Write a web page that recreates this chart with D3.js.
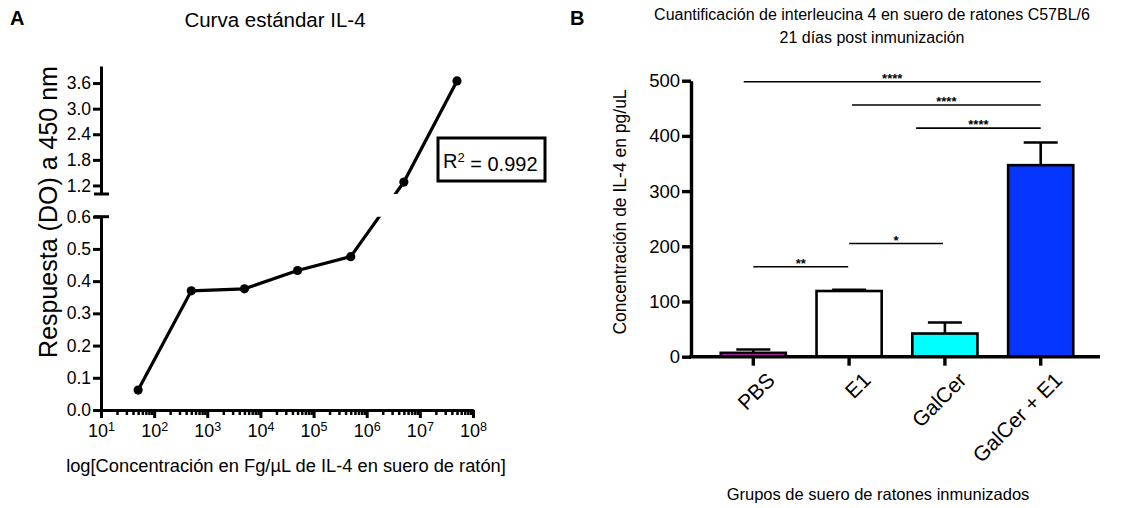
<!DOCTYPE html>
<html lang="es">
<head>
<meta charset="utf-8">
<script src="https://d3js.org/d3.v7.min.js"></script>
<style>
body { margin: 0; background: #fff; }
svg { font-family: "Liberation Sans", Arial, sans-serif; }
.axis path, .axis line { stroke: #000; stroke-width: 3; }
.axis text { fill: #000; font-family: "Liberation Sans", Arial, sans-serif; }
</style>
</head>
<body>
<script>
// ---- panel A: curva estandar ----
var conc = [50, 500, 5000, 50000, 500000, 5000000, 50000000];
var resp = [0.062, 0.37, 0.376, 0.433, 0.476, 1.28, 3.65];
var lowTicks = [0, 0.1, 0.2, 0.3, 0.4, 0.5, 0.6];
var highTicks = [1.2, 1.8, 2.4, 3.0, 3.6];
var decades = [1e1, 1e2, 1e3, 1e4, 1e5, 1e6, 1e7, 1e8];
var r2 = "0.992";

// ---- panel B: barras ----
var grupos = ["PBS", "E1", "GalCer", "GalCer + E1"];
var medias = [7, 119, 42, 347];
var errores = [6, 2, 20, 41];
var colores = ["#cc22cc", "#ffffff", "#00ffff", "#0536ff"];
var barTicks = [0, 100, 200, 300, 400, 500];
// comparaciones (posicion de grupo desde / hasta, nivel en pg/uL)
var compDesde = [-0.1, 1.03, 1.7, 0, 1];
var compHasta = [3.0, 3.0, 3.0, 0.99, 1.98];
var compNivel = [498, 456, 414, 163, 205];
var compTexto = ["****", "****", "****", "**", "*"];

var svg = d3.select("body").append("svg")
  .attr("width", 1127)
  .attr("height", 508);

// ================= A =================
var x = d3.scaleLog().domain([10, 1e8]).range([101, 473]);
var yLow = d3.scaleLinear().domain([0, 0.6]).range([410, 216.7]);
var yHigh = d3.scaleLinear().domain([1.0, 4.0]).range([194, 66]);
function yA(v) { return v <= 0.6 ? yLow(v) : yHigh(v); }

svg.append("text").attr("x", 10).attr("y", 25)
  .style("font-size", "20px").style("font-weight", "bold").text("A");
svg.append("text").attr("x", 275).attr("y", 27).attr("text-anchor", "middle")
  .style("font-size", "20.5px").text("Curva estándar IL-4");

// eje y inferior
svg.append("g").attr("class", "axis")
  .attr("transform", "translate(101,0)")
  .call(d3.axisLeft(yLow).tickValues(lowTicks).tickFormat(d3.format(".1f"))
    .tickSize(8).tickSizeOuter(0).tickPadding(2))
  .selectAll("text").style("font-size", "17.5px");
// eje y superior
svg.append("g").attr("class", "axis")
  .attr("transform", "translate(101,0)")
  .call(d3.axisLeft(yHigh).tickValues(highTicks).tickFormat(d3.format(".1f"))
    .tickSize(8).tickSizeOuter(0).tickPadding(2))
  .selectAll("text").style("font-size", "17.5px");
// marcas de corte
[yLow(0.6), yHigh(1.0)].forEach(function(yy) {
  svg.append("line").attr("x1", 94).attr("x2", 109).attr("y1", yy).attr("y2", yy)
    .attr("stroke", "#000").attr("stroke-width", 3);
});

// eje x: menores
var minors = [];
for (var k = 1; k < 8; k++) for (var m = 2; m < 10; m++) minors.push(m * Math.pow(10, k));
svg.append("g").attr("class", "axis")
  .attr("transform", "translate(0,410)")
  .call(d3.axisBottom(x).tickValues(minors).tickSize(5).tickSizeOuter(0).tickFormat(""))
  .selectAll("line").style("stroke-width", 2.5);
var xa = svg.append("g").attr("class", "axis")
  .attr("transform", "translate(0,410)")
  .call(d3.axisBottom(x).tickValues(decades).tickSize(8).tickSizeOuter(0).tickPadding(6));
xa.selectAll("text").style("font-size", "18px")
  .each(function(d) {
    var t = d3.select(this);
    t.text("10");
    t.append("tspan").attr("dy", "-0.45em").style("font-size", "12.5px").text(Math.round(Math.log10(d)));
  });

svg.append("text")
  .attr("transform", "translate(57,212) rotate(-90)")
  .attr("text-anchor", "middle").style("font-size", "25px")
  .text("Respuesta (DO) a 450 nm");
svg.append("text").attr("x", 286).attr("y", 472).attr("text-anchor", "middle")
  .style("font-size", "18.3px")
  .text("log[Concentración en Fg/µL de IL-4 en suero de ratón]");

// linea con corte
var defs = svg.append("defs");
defs.append("clipPath").attr("id", "clipLow").append("rect")
  .attr("x", 90).attr("y", yLow(0.6)).attr("width", 400).attr("height", 220);
defs.append("clipPath").attr("id", "clipHigh").append("rect")
  .attr("x", 90).attr("y", 40).attr("width", 400).attr("height", yHigh(1.0) - 40);
var pts = conc.map(function(c, i) { return [x(c), yA(resp[i])]; });
var line = d3.line();
["clipLow", "clipHigh"].forEach(function(id) {
  svg.append("path").attr("d", line(pts))
    .attr("clip-path", "url(#" + id + ")")
    .attr("fill", "none").attr("stroke", "#000").attr("stroke-width", 3.2);
});
svg.selectAll("circle.pt").data(pts).enter().append("circle")
  .attr("class", "pt").attr("cx", function(d) { return d[0]; })
  .attr("cy", function(d) { return d[1]; }).attr("r", 4.6).attr("fill", "#000");

// R2
svg.append("rect").attr("x", 438).attr("y", 138).attr("width", 107).attr("height", 43)
  .attr("fill", "#fff").attr("stroke", "#000").attr("stroke-width", 3);
var rt = svg.append("text").attr("x", 443).attr("y", 168).style("font-size", "20px");
rt.append("tspan").text("R");
rt.append("tspan").attr("dy", "-0.45em").style("font-size", "13px").text("2");
rt.append("tspan").attr("dy", "0.45em").text(" = " + r2);

// ================= B =================
var y0 = 356.7;
var xb = d3.scaleBand().domain(grupos).range([705.4, 1088.6]).padding(0);
var yb = d3.scaleLinear().domain([0, 500]).range([y0, 80.7]);
var bw = xb.bandwidth() * 0.68;
function cx(i) { return xb.range()[0] + (i + 0.5) * xb.step(); }

svg.append("text").attr("x", 570).attr("y", 25)
  .style("font-size", "20px").style("font-weight", "bold").text("B");
svg.append("text").attr("x", 872).attr("y", 20).attr("text-anchor", "middle")
  .style("font-size", "16px").text("Cuantificación de interleucina 4 en suero de ratones C57BL/6");
svg.append("text").attr("x", 872).attr("y", 43).attr("text-anchor", "middle")
  .style("font-size", "16px").text("21 días post inmunización");

// barras
svg.selectAll("rect.bar").data(medias).enter().append("rect")
  .attr("class", "bar")
  .attr("x", function(d, i) { return cx(i) - bw / 2; })
  .attr("y", function(d) { return yb(d); })
  .attr("width", bw)
  .attr("height", function(d) { return y0 - yb(d); })
  .attr("fill", function(d, i) { return colores[i]; })
  .attr("stroke", "#000").attr("stroke-width", 2.6);
// errores
medias.forEach(function(d, i) {
  svg.append("line").attr("x1", cx(i)).attr("x2", cx(i))
    .attr("y1", yb(d)).attr("y2", yb(d + errores[i]))
    .attr("stroke", "#000").attr("stroke-width", 2.6);
  svg.append("line").attr("x1", cx(i) - 17).attr("x2", cx(i) + 17)
    .attr("y1", yb(d + errores[i])).attr("y2", yb(d + errores[i]))
    .attr("stroke", "#000").attr("stroke-width", 2.6);
});

// ejes
svg.append("g").attr("class", "axis")
  .attr("transform", "translate(691,0)")
  .call(d3.axisLeft(yb).tickValues(barTicks).tickSize(9).tickSizeOuter(0).tickPadding(2))
  .call(function(g) { g.selectAll("path, line").style("stroke-width", 3.4); })
  .selectAll("text").style("font-size", "18.5px");
var xg = svg.append("g").attr("class", "axis")
  .attr("transform", "translate(0," + y0 + ")")
  .call(d3.axisBottom(xb).tickSize(9).tickSizeOuter(0));
xg.select(".domain").remove();
xg.selectAll("line").style("stroke-width", 3.4);
xg.selectAll("text")
  .style("font-size", "21px")
  .attr("text-anchor", "end")
  .attr("transform", "translate(4,6) rotate(-45)")
  .attr("dy", "0.7em");
svg.append("line").attr("x1", 689.3).attr("x2", 1100).attr("y1", y0).attr("y2", y0)
  .attr("stroke", "#000").attr("stroke-width", 3.4);

svg.append("text")
  .attr("transform", "translate(626,212) rotate(-90)")
  .attr("text-anchor", "middle").style("font-size", "17.5px")
  .text("Concentración de IL-4 en pg/uL");
svg.append("text").attr("x", 878).attr("y", 500).attr("text-anchor", "middle")
  .style("font-size", "16.5px").text("Grupos de suero de ratones inmunizados");

// comparaciones
compNivel.forEach(function(v, i) {
  var a = cx(compDesde[i]), b = cx(compHasta[i]);
  svg.append("line").attr("x1", a).attr("x2", b).attr("y1", yb(v)).attr("y2", yb(v))
    .attr("stroke", "#000").attr("stroke-width", 1.6);
  svg.append("text").attr("x", (a + b) / 2).attr("y", yb(v) + 1)
    .attr("text-anchor", "middle").style("font-size", "13px").style("font-weight", "bold")
    .text(compTexto[i]);
});
</script>
</body>
</html>
